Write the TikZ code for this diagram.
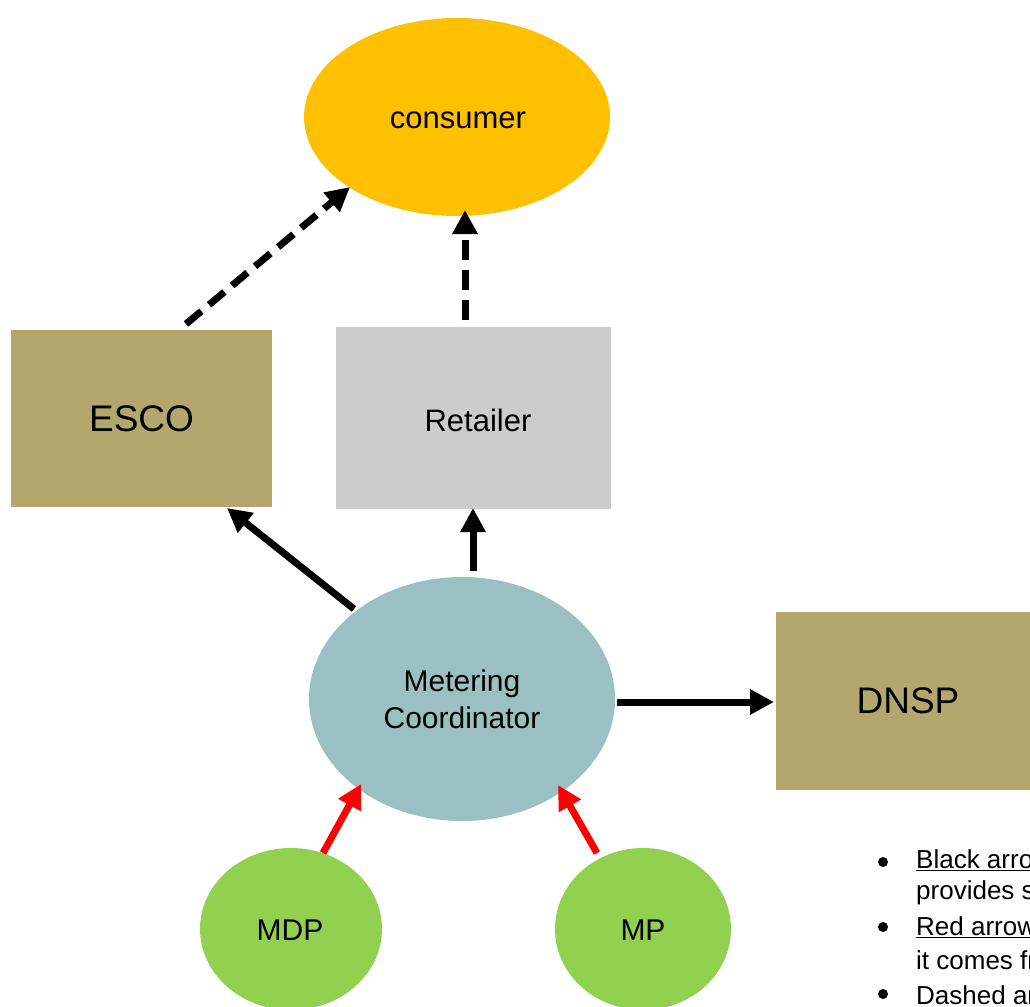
\documentclass[tikz,border=0pt]{standalone}
\usepackage{fontspec}
\setmainfont{Liberation Sans}
\usetikzlibrary{arrows.meta,shapes.geometric}
\definecolor{consumercol}{HTML}{FFC000}
\definecolor{escocol}{HTML}{B3A76E}
\definecolor{retailcol}{HTML}{CCCCCC}
\definecolor{mccol}{HTML}{9BC0C3}
\definecolor{greencol}{HTML}{92D050}
\tikzset{
  ell/.style={ellipse, inner sep=0pt, draw=none},
  box/.style={rectangle, inner sep=0pt, draw=none},
  solidarrow/.style={line width=7pt, -{Triangle[length=24pt,width=24pt]}},
  dasharrow/.style={line width=7pt, dash pattern=on 20pt off 10pt, -{Triangle[length=24pt,width=24pt]}},
  redarrow/.style={line width=7pt, red, -{Triangle[length=24pt,width=24pt]}},
  bul/.style={anchor=west, inner sep=0pt, font=\fontsize{26}{30}\selectfont},
  bulmark/.style={circle, fill=black, inner sep=0pt, minimum size=10pt},
}
\begin{document}
\begin{tikzpicture}[x=1pt,y=-1pt]
\useasboundingbox (0,0) rectangle (1030,1006);
\clip (0,0) rectangle (1030,1006);
\node[ell, fill=consumercol, minimum width=306pt, minimum height=198pt] (consumer) at (457,117) {};
\node[font=\fontsize{31}{36}\selectfont] (consumerlabel) at (458,120) {consumer};
\node[box, fill=escocol, minimum width=261pt, minimum height=177pt, font=\fontsize{37}{44}\selectfont] (esco) at (141.5,418.5) {ESCO};
\node[box, fill=retailcol, minimum width=275pt, minimum height=182pt] (retailer) at (473.5,418) {};
\node[font=\fontsize{31}{36}\selectfont] (retailerlabel) at (478,420) {Retailer};
\node[ell, fill=mccol, minimum width=306pt, minimum height=244pt, font=\fontsize{30}{37}\selectfont, align=center] (mc) at (462,699) {Metering\\Coordinator};
\node[box, fill=escocol, minimum width=270pt, minimum height=178pt, anchor=west] (dnsp) at (776,701) {};
\node[font=\fontsize{37}{44}\selectfont] (dnsplabel) at (908,701) {DNSP};
\node[ell, fill=greencol, minimum width=182pt, minimum height=162pt] (mdp) at (291,929) {};
\node[font=\fontsize{30}{36}\selectfont] (mdplabel) at (290,930) {MDP};
\node[ell, fill=greencol, minimum width=176pt, minimum height=162pt] (mp) at (643,929) {};
\node[font=\fontsize{30}{36}\selectfont] (mplabel) at (643,930) {MP};

\coordinate (e1) at (186,324);
\coordinate (e2) at (350,187);
\coordinate (r1) at (465,320);
\coordinate (r2) at (465,210);
\draw[dasharrow] (e1) -- (e2);
\draw[dasharrow] (r1) -- (r2);

\coordinate (m1) at (354,609);
\coordinate (m2) at (227,508);
\coordinate (m3) at (473,571);
\coordinate (m4) at (473,508);
\coordinate (m5) at (617,702);
\coordinate (m6) at (774,702);
\draw[solidarrow] (m1) -- (m2);
\draw[solidarrow] (m3) -- (m4);
\draw[solidarrow] (m5) -- (m6);

\coordinate (d1) at (323,853);
\coordinate (d2) at (361,784);
\coordinate (p1) at (597,853);
\coordinate (p2) at (558,785);
\draw[redarrow] (d1) -- (d2);
\draw[redarrow] (p1) -- (p2);

\node[bulmark] (b1) at (883,862) {};
\node[bul] (t1) at (916,862) {\underline{Black arrow}: the party that};
\node[bul] (t1b) at (916,893) {provides services};
\node[bulmark] (b2) at (883,927) {};
\node[bul] (t2) at (916,927) {\underline{Red arrow}: where the data};
\node[bul] (t2b) at (916,960) {it comes from};
\node[bulmark] (b3) at (883,994) {};
\node[bul] (t3) at (916,995) {Dashed arrow};
\end{tikzpicture}
\end{document}
